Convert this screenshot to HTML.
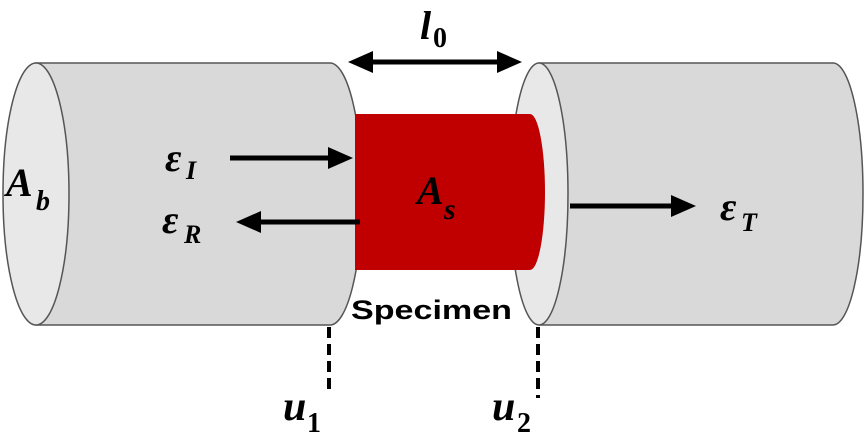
<!DOCTYPE html>
<html><head><style>
html,body{margin:0;padding:0;background:#fff;}
svg{display:block;}
.m{font-family:"Liberation Serif","DejaVu Serif",serif;font-style:italic;font-weight:bold;fill:#000;}
</style></head><body>
<svg width="866" height="440" viewBox="0 0 866 440" xmlns="http://www.w3.org/2000/svg">
<defs>
<marker id="ah" markerWidth="5" markerHeight="4.4" refX="3" refY="2.2" orient="auto" markerUnits="strokeWidth">
<path d="M0,0 L5,2.2 L0,4.4 z" fill="#000"/>
</marker>
</defs>
<path d="M36,63 L330,63 A32,131 0 0 1 330,325 L36,325 Z" fill="#d9d9d9" stroke="#555" stroke-width="1.5"/>
<ellipse cx="36" cy="194" rx="33" ry="131" fill="#e8e8e8" stroke="#555" stroke-width="1.5"/>
<path d="M540,63 L833,63 A30,131 0 0 1 833,325 L540,325 Z" fill="#d9d9d9" stroke="#555" stroke-width="1.5"/>
<ellipse cx="539" cy="194" rx="29" ry="131" fill="#e8e8e8" stroke="#555" stroke-width="1.5"/>
<path d="M355,114 L530,114 A15,78 0 0 1 530,270 L355,270 Z" fill="#c00000"/>
<line x1="360" y1="62" x2="512" y2="62" stroke="#000" stroke-width="5" marker-end="url(#ah)"/>
<line x1="512" y1="62" x2="358" y2="62" stroke="#000" stroke-width="5" marker-end="url(#ah)"/>
<line x1="230" y1="158" x2="343" y2="158" stroke="#000" stroke-width="5" marker-end="url(#ah)"/>
<line x1="360" y1="222" x2="246" y2="222" stroke="#000" stroke-width="5" marker-end="url(#ah)"/>
<line x1="570" y1="206" x2="686" y2="206" stroke="#000" stroke-width="5" marker-end="url(#ah)"/>
<line x1="329" y1="327" x2="329" y2="395" stroke="#000" stroke-width="4" stroke-dasharray="11,6"/>
<line x1="538" y1="327" x2="538" y2="398" stroke="#000" stroke-width="4" stroke-dasharray="11,6"/>
<text class="m" x="420" y="39" font-size="40">l</text><text class="m" x="433" y="47" font-size="28" style="font-style:normal">0</text>
<text class="m" x="165" y="171" font-size="40">ε</text><text class="m" x="186" y="179" font-size="26">I</text>
<text class="m" x="162" y="233" font-size="40">ε</text><text class="m" x="184" y="243" font-size="26">R</text>
<text class="m" x="720" y="220" font-size="40">ε</text><text class="m" x="741" y="231" font-size="26">T</text>
<text class="m" x="6" y="196" font-size="40">A</text><text class="m" x="36" y="210" font-size="28">b</text>
<text class="m" x="417" y="204" font-size="40">A</text><text class="m" x="444" y="219" font-size="30">s</text>
<text class="m" x="283" y="420" font-size="42">u</text><text class="m" x="307" y="432" font-size="28" style="font-style:normal">1</text>
<text class="m" x="492" y="420" font-size="42">u</text><text class="m" x="517" y="432" font-size="28" style="font-style:normal">2</text>
<text x="351" y="319" font-family="Liberation Sans, sans-serif" font-weight="bold" font-size="27" fill="#000" textLength="161" lengthAdjust="spacingAndGlyphs">Specimen</text>
</svg>
</body></html>
